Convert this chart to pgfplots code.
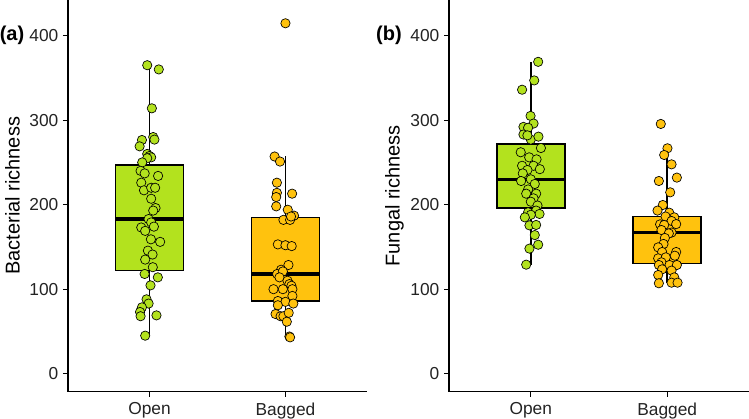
\documentclass[border=0pt]{standalone}
\usepackage{pgfplots}
\pgfplotsset{compat=1.18}
\usepackage{fontspec}
\setmainfont{Liberation Sans}
\definecolor{cgreen}{RGB}{179,226,30}
\definecolor{corange}{RGB}{255,194,14}
\definecolor{tickgray}{RGB}{35,35,35}

\pgfplotstableread{
x y
0.983 365
1.068 360
1.017 314
0.944 276.5
0.927 269
1.027 280
1.036 277
0.983 260
1.000 257.6
1.012 256
0.983 255
0.946 250
0.934 240
0.964 237
1.063 234
0.939 226
0.959 217
1.012 220
1.041 220
1.012 207
1.044 196
1.027 193
0.993 183
1.012 179
0.939 173
1.032 174
0.968 169
1.010 159
1.078 156
0.988 145.6
1.022 141
0.968 135
1.024 126
0.964 118
1.061 114
1.007 104.5
0.978 88
0.993 83
0.944 78.5
0.930 73
0.934 68
1.051 69
0.968 45
}\bacopen

\pgfplotstableread{
x y
2.000 414.6
1.920 257
1.960 251
1.937 226
1.937 214
1.932 209
2.049 213
1.932 198
2.017 194
2.063 187
1.985 182
2.034 182
2.041 186
1.944 153
2.000 152
2.046 151
2.022 128.6
1.968 123
1.939 118
1.981 121
1.956 114
2.015 110
2.029 106
2.044 104
1.912 100
1.981 100
2.051 100
2.051 92
1.944 86
2.000 85
1.944 81
2.058 83
1.927 70.6
1.964 68
1.985 68
2.024 72
2.010 61.5
2.029 44
2.034 43
}\bacbag

\pgfplotstableread{
x y
1.054 369
1.025 347
0.936 336
0.998 305
0.946 292
1.020 296
0.980 291
0.946 283
1.000 277
1.056 280.5
0.975 282
1.074 267
0.926 262
0.988 256
1.042 253.6
0.936 246
1.020 246
0.975 241
1.066 242
0.941 237
1.000 230
0.929 228
1.029 224.5
0.980 218
0.966 213
1.039 213
1.020 207.5
1.000 203.5
1.049 199
1.039 193
0.980 191
1.064 189
1.000 188
0.956 185
0.990 175.5
1.039 176
1.029 164
0.990 148
1.054 152.6
0.966 129
}\funopen

\pgfplotstableread{
x y
1.953 295.5
2.002 266.7
1.978 258.8
2.032 247.7
2.071 232
1.939 228
2.022 214.6
1.968 199.6
1.929 193
2.015 190.5
1.988 186
2.052 185
2.032 180.7
1.948 176.7
1.978 176
2.066 177
1.958 170
2.032 167
2.012 166
1.983 160.6
1.973 153.5
1.934 149.5
2.066 144
1.963 144
2.056 139.6
1.934 136.5
1.990 137.7
1.958 131.8
1.939 128.6
2.017 128.6
2.071 128.6
1.963 123.5
2.032 122
1.934 116.8
2.052 114
1.939 107
2.032 107.7
2.076 107.7
}\funbag

\pgfplotsset{
 panel/.style={
  scale only axis, height=293.8pt,
  xmin=0.4, xmax=2.6, ymin=-21.3, ymax=442.2,
  axis lines*=left, axis line style={line width=0.9pt, black},
  xtick={1,2}, xticklabels={Open,Bagged},
  ytick={0,100,200,300,400},
  tick style={line width=0.9pt, black}, major tick length=3.75pt, tick align=outside,
  tick label style={font=\fontsize{13}{15}\selectfont, text=tickgray},
  xticklabel style={yshift=-1pt},
  /pgf/number format/assume math mode=true,
  label style={font=\fontsize{15}{18}\selectfont},
  clip=false,
 },
 pts/.style={only marks, mark=*, mark size=3.5pt, mark options={fill=#1, draw=black, line width=0.5pt}},
 bx/.style={draw=black, fill=#1, line width=1.2pt, solid, mark=none},
 wh/.style={draw=black, line width=1.1pt, mark=none},
 md/.style={draw=black, line width=2.3pt, mark=none},
}

\begin{document}
\begin{tikzpicture}
\useasboundingbox (0,0) rectangle (561.75pt,313.5pt);
\begin{axis}[panel, width=224.25pt, at={(51pt,19.725pt)}, anchor=south west,
  ylabel={Bacterial richness},
  ylabel style={at={(axis description cs:-0.1856,0.5)}, anchor=center}]
% Open
\addplot[wh] coordinates {(1,247) (1,365)};
\addplot[wh] coordinates {(1,122) (1,45)};
\addplot[bx=cgreen] coordinates {(0.75,122) (1.25,122) (1.25,247) (0.75,247)} --cycle;
\addplot[md] coordinates {(0.75,183) (1.25,183)};
% Bagged
\addplot[wh] coordinates {(2,185) (2,257)};
\addplot[wh] coordinates {(2,86) (2,43)};
\addplot[bx=corange] coordinates {(1.75,86) (2.25,86) (2.25,185) (1.75,185)} --cycle;
\addplot[md] coordinates {(1.75,118) (2.25,118)};
\addplot[pts=cgreen] table[x=x,y=y] {\bacopen};
\addplot[pts=corange] table[x=x,y=y] {\bacbag};
\end{axis}
\begin{axis}[panel, width=225pt, at={(336.75pt,19.725pt)}, anchor=south west,
  ylabel={Fungal richness},
  ylabel style={at={(axis description cs:-0.1817,0.5)}, anchor=center}]
\addplot[wh] coordinates {(1,272) (1,369)};
\addplot[wh] coordinates {(1,196) (1,129)};
\addplot[bx=cgreen] coordinates {(0.75,196) (1.25,196) (1.25,272) (0.75,272)} --cycle;
\addplot[md] coordinates {(0.75,230) (1.25,230)};
\addplot[wh] coordinates {(2,186) (2,265)};
\addplot[wh] coordinates {(2,130.6) (2,107)};
\addplot[bx=corange] coordinates {(1.75,130.6) (2.25,130.6) (2.25,186) (1.75,186)} --cycle;
\addplot[md] coordinates {(1.75,167) (2.25,167)};
\addplot[pts=cgreen] table[x=x,y=y] {\funopen};
\addplot[pts=corange] table[x=x,y=y] {\funbag};
\end{axis}
\node[font=\bfseries\fontsize{15}{18}\selectfont, anchor=center] at (9pt,286.7pt) {(a)};
\node[font=\bfseries\fontsize{15}{18}\selectfont, anchor=center] at (291.75pt,286.7pt) {(b)};
\end{tikzpicture}
\end{document}
